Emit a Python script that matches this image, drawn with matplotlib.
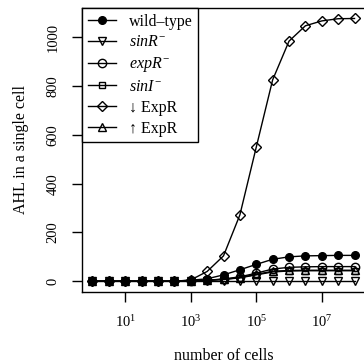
import matplotlib
matplotlib.use("Agg")
from matplotlib import pyplot as plt

plt.rcParams['font.family'] = ['Liberation Serif', 'DejaVu Serif']
plt.rcParams['mathtext.fontset'] = 'custom'
plt.rcParams['mathtext.rm'] = 'Liberation Serif'
plt.rcParams['mathtext.it'] = 'Liberation Serif:italic'

# log10 of number of cells
log_cells = [0, 0.5, 1, 1.5, 2, 2.5, 3, 3.5, 4, 4.5, 5, 5.5, 6, 6.5, 7, 7.5, 8]
cells = [10 ** v for v in log_cells]

wild_type = [0, 0, 0, 0, 0, 0, 4, 10, 26, 47, 69, 90, 100, 104, 105, 106, 106]
sinR_minus = [0, 0, 0, 0, 0, 0, 0, 0, 0, 0, 0, 0, 0, 0, 0, 0, 0]
expR_minus = [0, 0, 0, 0, 0, 0, 2, 4, 9, 18, 33, 50, 57, 59, 60, 60, 60]
sinI_minus = [0, 0, 0, 0, 0, 0, 1, 3, 7, 14, 26, 38, 42, 43, 43, 43, 43]
expR_down = [0, 0, 0, 0, 0, 0, 5, 40, 104, 272, 550, 826, 985, 1048, 1068, 1077, 1078]
expR_up = [0, 0, 0, 0, 0, 0, 2, 4, 8, 15, 28, 41, 44, 45, 45, 45, 45]

series = [
    (wild_type, 'wild\u2013type', 'o', 'black', 5.5),
    (sinR_minus, r'$\it{sinR}^{-}$', 'v', 'none', 6),
    (expR_minus, r'$\it{expR}^{-}$', 'o', 'none', 6),
    (sinI_minus, r'$\it{sinI}^{-}$', 's', 'none', 5),
    (expR_down, '\u2193 ExpR', 'D', 'none', 5.5),
    (expR_up, '\u2191 ExpR', '^', 'none', 6),
]

fig = plt.figure(figsize=(3.64, 3.64), dpi=100)
ax = fig.add_axes([82 / 364, 1 - 291.7 / 364, 283 / 364, 283.7 / 364])

for vals, label, mk, fc, ms in series:
    ax.plot(cells, vals, color='black', lw=1, marker=mk, markersize=ms,
            markerfacecolor=fc, markeredgecolor='black', markeredgewidth=1,
            label=label)

ax.set_xscale('log')
ax.set_xlim(10 ** -0.32, 10 ** 8.32)
ax.set_ylim(-43, 1121)
ax.set_xticks([1e1, 1e3, 1e5, 1e7])
ax.set_xticklabels([r'$10^{1}$', r'$10^{3}$', r'$10^{5}$', r'$10^{7}$'])
ax.minorticks_off()
ax.set_yticks([0, 200, 400, 600, 800, 1000])
ax.set_yticklabels(['0', '200', '400', '600', '800', '1000'], rotation=90, va='center')
ax.tick_params(direction='out', length=7, width=1, labelsize=10.5, pad=9)
for sp in ax.spines.values():
    sp.set_linewidth(1)

ax.set_xlabel('number of cells', fontsize=11.5)
ax.set_ylabel('AHL in a single cell', fontsize=11.5)
ax.xaxis.set_label_coords(0.5, -0.198)
ax.yaxis.set_label_coords(-0.186, 0.5)

leg = ax.legend(loc='upper left', borderaxespad=0, fontsize=11.5, frameon=True,
                fancybox=False, edgecolor='black', framealpha=1,
                handlelength=1.75, labelspacing=0.3, handletextpad=0.85,
                borderpad=0.35)
leg.get_frame().set_linewidth(1)

fig.savefig('out.png', dpi=100)
